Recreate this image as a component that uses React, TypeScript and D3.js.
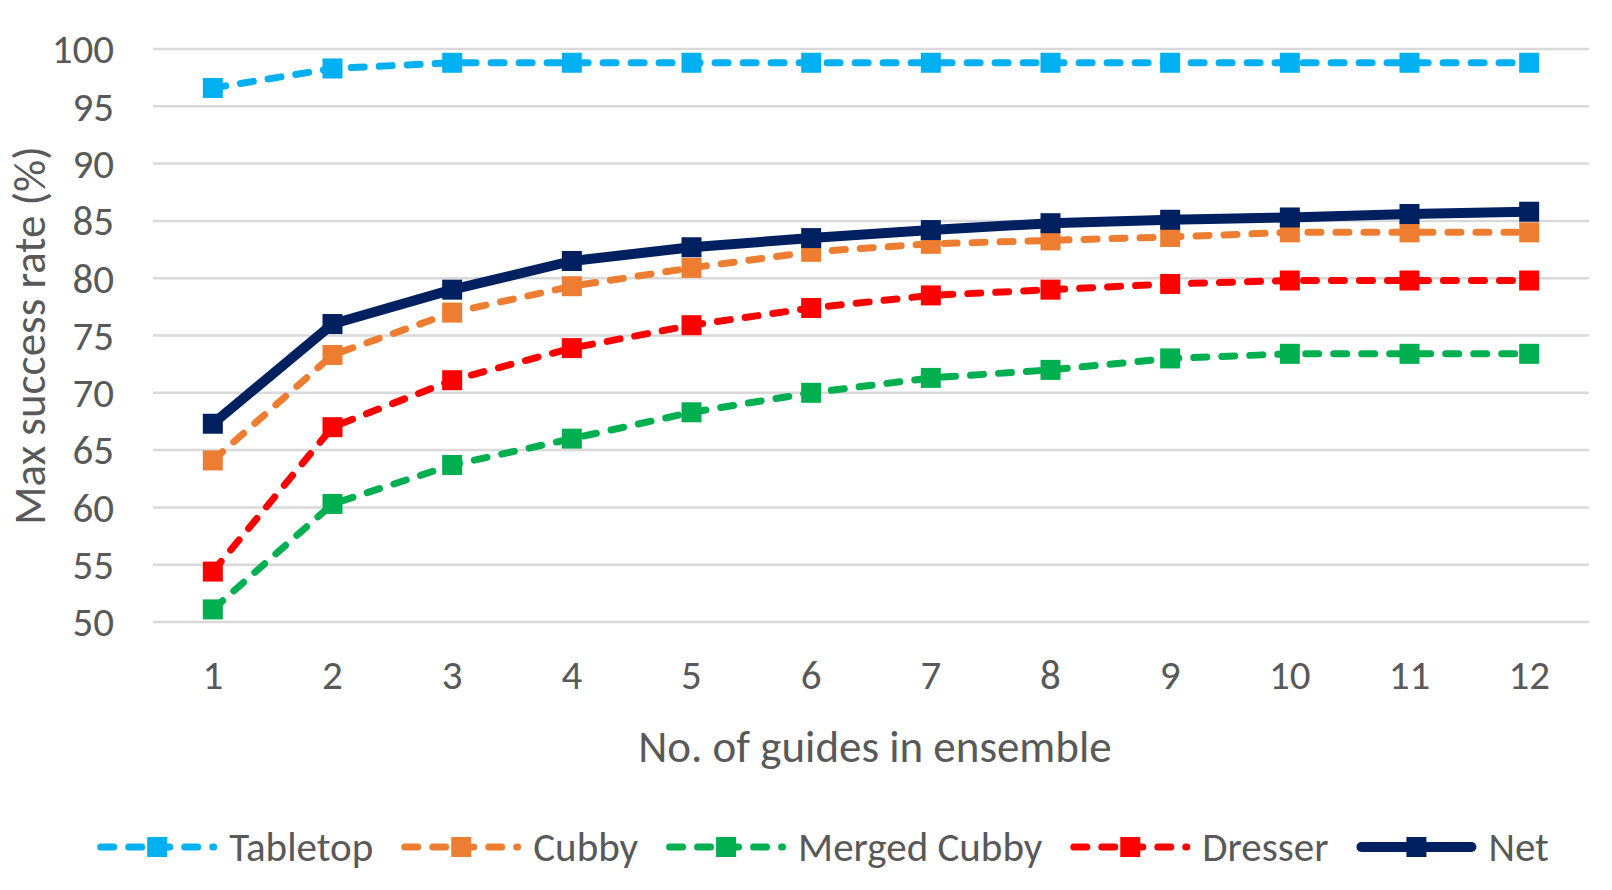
import * as d3 from "d3";
import { useMemo } from "react";

// guides in ensemble (x categories)
const guides = ["1", "2", "3", "4", "5", "6", "7", "8", "9", "10", "11", "12"];
const yTicks = [50, 55, 60, 65, 70, 75, 80, 85, 90, 95, 100];

// max success rate (%) per series
const tabletop = [96.6, 98.3, 98.8, 98.8, 98.8, 98.8, 98.8, 98.8, 98.8, 98.8, 98.8, 98.8];
const cubby = [64.1, 73.3, 77.0, 79.3, 80.9, 82.3, 83.0, 83.3, 83.6, 84.0, 84.0, 84.0];
const mergedCubby = [51.1, 60.3, 63.7, 66.0, 68.3, 70.0, 71.3, 72.0, 73.0, 73.4, 73.4, 73.4];
const dresser = [54.4, 67.0, 71.1, 73.9, 75.9, 77.4, 78.5, 79.0, 79.5, 79.8, 79.8, 79.8];
const net = [67.3, 76.0, 79.0, 81.5, 82.7, 83.5, 84.2, 84.8, 85.1, 85.3, 85.6, 85.8];

const series = [
  { name: "Tabletop", values: tabletop, color: "#00B0F0", dashed: true },
  { name: "Cubby", values: cubby, color: "#ED7D31", dashed: true },
  { name: "Merged Cubby", values: mergedCubby, color: "#00B050", dashed: true },
  { name: "Dresser", values: dresser, color: "#FF0000", dashed: true },
  { name: "Net", values: net, color: "#002060", dashed: false },
];

const FONT = "Calibri, Carlito, Lato, sans-serif";
const TEXT = "#595959";
const TICK_SIZE = 41;
const TITLE_SIZE = 45;
const LEGEND_SIZE = 41;

function measure(text: string, size: number) {
  const ctx = document.createElement("canvas").getContext("2d")!;
  ctx.font = `${size}px ${FONT}`;
  return ctx.measureText(text).width;
}

export default function App() {
  const width = 1612;
  const height = 890;
  const left = 153, right = 1589, top = 49, bottom = 622;

  const x = d3.scaleBand<string>().domain(guides).range([left, right]);
  const y = d3.scaleLinear().domain([50, 100]).range([bottom, top]);
  const cx = (i: number) => (x(guides[i]) ?? 0) + x.bandwidth() / 2;

  const line = d3.line<number>()
    .x((_, i) => cx(i))
    .y((d) => y(d));

  // legend layout: line sample + label, centred under chart
  const sample = 120, pad = 12, gap = 28;
  const legend = useMemo(() => {
    const widths = series.map((s) => sample + pad + measure(s.name, LEGEND_SIZE));
    const total = d3.sum(widths) + gap * (series.length - 1);
    let x0 = 823 - total / 2;
    return series.map((s, i) => {
      const item = { ...s, x0 };
      x0 += widths[i] + gap;
      return item;
    });
  }, []);

  const m = 20; // marker size

  return (
    <svg width={width} height={height} style={{ position: "absolute", left: 0, top: 0, background: "#fff" }}
      fontFamily={FONT}>
      {/* gridlines */}
      <g stroke="#D9D9D9" strokeWidth={2.5}>
        {yTicks.map((t) => (
          <line key={t} x1={left} x2={right} y1={y(t)} y2={y(t)} />
        ))}
      </g>

      {/* y tick labels */}
      <g fill={TEXT} fontSize={TICK_SIZE} textAnchor="end">
        {yTicks.map((t) => (
          <text key={t} x={114} y={y(t)} dy="0.35em">{t}</text>
        ))}
      </g>

      {/* x tick labels */}
      <g fill={TEXT} fontSize={TICK_SIZE} textAnchor="middle">
        {guides.map((g, i) => (
          <text key={g} x={cx(i)} y={675} dy="0.35em">{g}</text>
        ))}
      </g>

      {/* axis titles */}
      <text x={(left + right) / 2 + 4} y={746} dy="0.35em" textAnchor="middle" fill={TEXT} fontSize={TITLE_SIZE}>
        No. of guides in ensemble
      </text>
      <text transform={`translate(29,${(top + bottom) / 2}) rotate(-90)`} dy="0.35em" textAnchor="middle"
        fill={TEXT} fontSize={TITLE_SIZE}>
        Max success rate (%)
      </text>

      {/* series */}
      {series.map((s) => (
        <g key={s.name}>
          <path d={line(s.values) ?? undefined} fill="none" stroke={s.color}
            strokeWidth={s.dashed ? 7 : 10}
            strokeDasharray={s.dashed ? "13 15" : undefined}
            strokeLinecap={s.dashed ? "round" : "butt"} strokeLinejoin="round" />
          {s.values.map((v, i) => (
            <rect key={i} x={cx(i) - m / 2} y={y(v) - m / 2} width={m} height={m} fill={s.color} />
          ))}
        </g>
      ))}

      {/* legend */}
      <g fontSize={LEGEND_SIZE} fill={TEXT}>
        {legend.map((s) => (
          <g key={s.name} transform={`translate(${s.x0},847)`}>
            <line x1={s.dashed ? 3.5 : 5} x2={s.dashed ? sample - 3.5 : sample - 5} y1={0} y2={0} stroke={s.color}
              strokeWidth={s.dashed ? 7 : 10}
              strokeDasharray={s.dashed ? "13 15" : undefined}
              strokeLinecap="round" />
            <rect x={sample / 2 - m / 2} y={-m / 2} width={m} height={m} fill={s.color} />
            <text x={sample + pad} y={0} dy="0.35em">{s.name}</text>
          </g>
        ))}
      </g>
    </svg>
  );
}
